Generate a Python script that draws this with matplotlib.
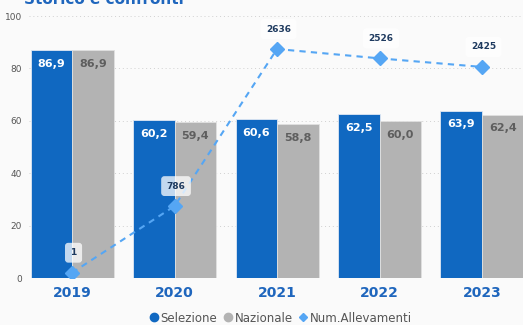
import matplotlib.pyplot as plt
from matplotlib.lines import Line2D
import numpy as np

years = ["2019", "2020", "2021", "2022", "2023"]
selezione = [86.9, 60.2, 60.6, 62.5, 63.9]
nazionale = [86.9, 59.4, 58.8, 60.0, 62.4]
allevamenti = [1, 786, 2636, 2526, 2425]

BLUE = "#1068c1"
GRAY = "#b3b3b3"
LINE = "#55a6f4"
BG = "#fafafa"
TXT = "#1e3a5f"

fig = plt.figure(figsize=(5.23, 3.25), dpi=100, facecolor=BG)
ax = fig.add_axes([29 / 523, 47 / 325, 494 / 523, 262 / 325], facecolor=BG)

x = np.arange(len(years))
w = 0.405
bs = ax.bar(x - w / 2, selezione, w, color=BLUE, edgecolor="#dfe8f3", linewidth=0.6, zorder=2)
bn = ax.bar(x + w / 2, nazionale, w, color=GRAY, edgecolor="#e0e0e0", linewidth=0.6, zorder=2)

def fmt(v):
    return f"{v:.1f}".replace(".", ",")

for rect, v in zip(bs, selezione):
    ax.text(rect.get_x() + rect.get_width() / 2, v - 5.3, fmt(v), ha="center", va="center",
            color="white", fontsize=8, fontweight="bold", zorder=4)
for rect, v in zip(bn, nazionale):
    ax.text(rect.get_x() + rect.get_width() / 2, v - 5.3, fmt(v), ha="center", va="center",
            color="#5e5e5e", fontsize=8, fontweight="bold", zorder=4)

ax.set_ylim(0, 100)
ax.set_xlim(-0.42, 4.4)
ax.set_yticks(range(0, 101, 20))
ax.tick_params(axis="y", length=0, labelsize=6.5, labelcolor="#555555", pad=5)
ax.tick_params(axis="x", length=0, labelsize=10, labelcolor="#1f66bd", pad=6)
ax.set_xticks(x)
ax.set_xticklabels(years, fontweight="bold")
ax.grid(axis="y", color="#d0d0d0", linestyle=(0, (1, 3)), linewidth=0.7, zorder=0)
for s in ax.spines.values():
    s.set_visible(False)

ax2 = ax.twinx()
ax2.set_ylim(-61, 3025)
ax2.axis("off")
ax2.plot(x, allevamenti, color=LINE, linestyle=(0, (3, 2.5)), linewidth=1.5,
         marker="D", markersize=7, markerfacecolor=LINE, markeredgecolor=LINE, zorder=3)
for xi, v in zip(x, allevamenti):
    ax2.annotate(str(v), (xi, v), xytext=(1.5, 20), textcoords="offset pixels",
                 ha="center", va="center", fontsize=6.5, fontweight="bold", color=TXT,
                 bbox=dict(boxstyle="round,pad=0.6,rounding_size=0.35", fc="white", ec="none", alpha=0.75),
                 zorder=5)

fig.text(24 / 523, 1.0 + 8 / 325, "Storico e confronti", ha="left", va="top",
         fontsize=11, fontweight="bold", color="#1f66bd")

handles = [
    Line2D([], [], marker="o", linestyle="none", color=BLUE, markersize=6),
    Line2D([], [], marker="o", linestyle="none", color=GRAY, markersize=6),
    Line2D([], [], marker="D", linestyle="none", color=LINE, markersize=4.5),
]
fig.legend(handles, ["Selezione", "Nazionale", "Num.Allevamenti"], loc="center",
           bbox_to_anchor=(280 / 523, 1 - 318 / 325), ncol=3, frameon=False,
           fontsize=8.5, labelcolor="#555555", handletextpad=0.05, columnspacing=0.4,
           handlelength=1.0)

fig.savefig("out.png", dpi=100, facecolor=BG)
